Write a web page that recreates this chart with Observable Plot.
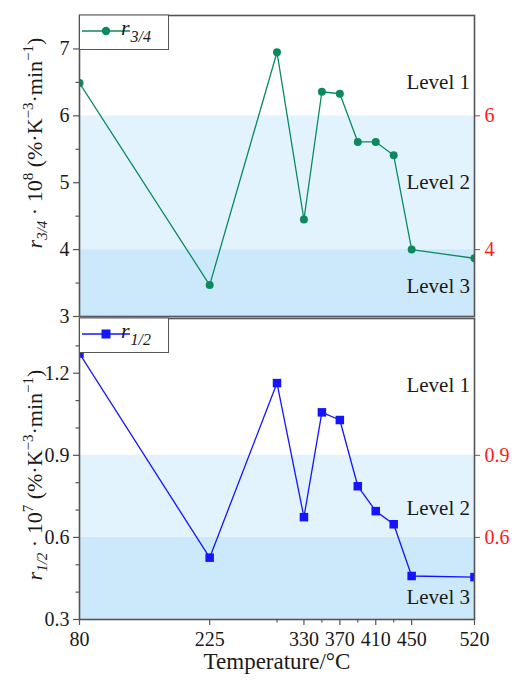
<!DOCTYPE html>
<html>
<head>
<meta charset="utf-8">
<script src="https://cdn.jsdelivr.net/npm/d3@7"></script>
<script src="https://cdn.jsdelivr.net/npm/@observablehq/plot@0.6"></script>
<style>
  body { margin: 0; background: #fff; }
  #chart svg { display: block; overflow: visible; }
</style>
</head>
<body>
<div id="chart"></div>
<script>
// ---- data ----
const temperature = [80, 225, 300, 330, 350, 370, 390, 410, 430, 450, 520];
const r34 = [6.49, 3.47, 6.95, 4.45, 6.36, 6.33, 5.61, 5.61, 5.41, 4.00, 3.87];
const r12 = [1.272, 0.526, 1.164, 0.674, 1.057, 1.029, 0.787, 0.696, 0.648, 0.459, 0.455];
const xMajorTicks = [80, 225, 330, 370, 410, 450, 520];
const xMinorTicks = [300, 350, 390, 430];
const topMajorTicks = [3, 4, 5, 6, 7];
const topMinorTicks = [3.5, 4.5, 5.5, 6.5];
const bottomMajorTicks = [0.3, 0.6, 0.9, 1.2];
const bottomMinorTicks = [0.4, 0.5, 0.7, 0.8, 1.0, 1.1, 1.3];
const topRightTicks = [4, 6];
const bottomRightTicks = [0.6, 0.9];
const levelNames = ["Level 1", "Level 2", "Level 3"];
const topLevelY = [6.5, 5.0, 3.45];
const bottomLevelY = [1.155, 0.706, 0.383];
const topBandEdges = [3, 4, 6];
const bottomBandEdges = [0.3, 0.6, 0.9];
const levelX = 515;

// ---- style ----
const FONT = "'Liberation Serif', 'Times New Roman', serif";
const GREEN = "#0b8a5f";
const BLUE = "#1414ff";
const RED = "#ff1a1a";
const FRAME = "#555";
const DARK_BAND = "#cce9fb";
const LIGHT_BAND = "#e3f3fd";

const rows = (ys) => temperature.map((t, i) => ({t, v: ys[i]}));
const levels = (ys) => levelNames.map((name, i) => ({name, y: ys[i]}));

function panel({ys, domain, edges, major, minor, right, lvlY, symbol, color, r, height, marginTop, marginBottom, bottom}) {
  const marks = [
    Plot.rect([{y1: edges[0], y2: edges[1]}], {y1: "y1", y2: "y2", fill: DARK_BAND}),
    Plot.rect([{y1: edges[1], y2: edges[2]}], {y1: "y1", y2: "y2", fill: LIGHT_BAND}),
    Plot.text(levels(lvlY), {x: () => levelX, y: "y", text: "name", textAnchor: "end", fontSize: 21, fill: "#1a1a1a"}),
    Plot.line(rows(ys), {x: "t", y: "v", stroke: color, strokeWidth: 1.3, clip: "frame"}),
    Plot.dot(rows(ys), {x: "t", y: "v", fill: color, stroke: "none", symbol, r, clip: "frame"}),
    Plot.axisY({ticks: major, tickSize: 6, tickPadding: 4, fontSize: 20, stroke: FRAME, strokeWidth: 1.2, label: null, tickFormat: d => String(d)}),
    Plot.axisY({ticks: minor, tickSize: 3.5, text: null, stroke: FRAME, strokeWidth: 1.2, label: null}),
    Plot.axisY({anchor: "right", ticks: right, tickSize: 5, tickPadding: 5, fontSize: 20, color: RED, label: null, tickFormat: d => String(d)}),
    Plot.frame({stroke: FRAME, strokeWidth: 1.6})
  ];
  if (bottom) {
    marks.push(
      Plot.axisX({ticks: xMajorTicks, tickSize: 6, tickPadding: 6, fontSize: 20, stroke: FRAME, strokeWidth: 1.2, label: null}),
      Plot.axisX({ticks: xMinorTicks, tickSize: 3.5, text: null, stroke: FRAME, strokeWidth: 1.2, label: null}),
      Plot.text(["Temperature/°C"], {frameAnchor: "bottom", dy: 49, fontSize: 23, fill: "#1a1a1a"})
    );
  }
  return Plot.plot({
    width: 512,
    height,
    marginLeft: 79,
    marginRight: 38,
    marginTop,
    marginBottom,
    style: {fontFamily: FONT, fontSize: "20px", color: "#1a1a1a", background: "transparent", overflow: "visible"},
    x: {domain: [80, 520], axis: null},
    y: {domain, axis: null},
    marks
  });
}

function addYTitle(svg, cx, cy, sub, exp) {
  const t = d3.select(svg).append("text")
    .attr("transform", `translate(${cx},${cy}) rotate(-90)`)
    .attr("text-anchor", "middle")
    .attr("font-family", FONT)
    .attr("font-size", 22)
    .attr("fill", "#1a1a1a");
  t.append("tspan").attr("font-style", "italic").text("r");
  t.append("tspan").attr("font-style", "italic").attr("font-size", 15).attr("dy", 5).text(sub);
  t.append("tspan").attr("dy", -5).text(" · 10");
  t.append("tspan").attr("font-size", 15).attr("dy", -9).text(exp);
  t.append("tspan").attr("dy", 9).text(" (%·K");
  t.append("tspan").attr("font-size", 15).attr("dy", -9).text("−3");
  t.append("tspan").attr("dy", 9).text("·min");
  t.append("tspan").attr("font-size", 15).attr("dy", -9).text("−1");
  t.append("tspan").attr("dy", 9).text(")");
}

function addLegend(svg, y0, color, square, sub) {
  const g = d3.select(svg).append("g");
  const cy = y0 + 16;
  g.append("rect").attr("x", 79.5).attr("y", y0).attr("width", 89).attr("height", 34.5)
    .attr("fill", "#fff").attr("stroke", FRAME).attr("stroke-width", 1);
  g.append("line").attr("x1", 82).attr("x2", 130).attr("y1", cy).attr("y2", cy)
    .attr("stroke", color).attr("stroke-width", 1.3);
  if (square) {
    g.append("rect").attr("x", 101.5).attr("y", cy - 4.5).attr("width", 9).attr("height", 9).attr("fill", color);
  } else {
    g.append("circle").attr("cx", 106).attr("cy", cy).attr("r", 4.2).attr("fill", color);
  }
  const t = g.append("text").attr("x", 136).attr("y", cy + 4)
    .attr("font-family", FONT).attr("font-size", 22).attr("font-style", "italic").attr("fill", "#1a1a1a");
  t.append("tspan").text("r");
  t.append("tspan").attr("font-size", 16).attr("dx", 1).attr("dy", 7).text(sub);
}

const topPanel = panel({
  ys: r34, domain: [3, 7.5], edges: topBandEdges, major: topMajorTicks, minor: topMinorTicks,
  right: topRightTicks, lvlY: topLevelY, symbol: "circle", color: GREEN, r: 4,
  height: 317, marginTop: 15, marginBottom: 1, bottom: false
});
addLegend(topPanel, 15, GREEN, false, "3/4");
addYTitle(topPanel, 42, 143, "3/4", "8");

const bottomPanel = panel({
  ys: r12, domain: [0.3, 1.4], edges: bottomBandEdges, major: bottomMajorTicks, minor: bottomMinorTicks,
  right: bottomRightTicks, lvlY: bottomLevelY, symbol: "square", color: BLUE, r: 4.8,
  height: 363, marginTop: 1, marginBottom: 61, bottom: true
});
addLegend(bottomPanel, 1, BLUE, true, "1/2");
addYTitle(bottomPanel, 42, 158, "1/2", "7");

document.getElementById("chart").append(topPanel, bottomPanel);
</script>
</body>
</html>
